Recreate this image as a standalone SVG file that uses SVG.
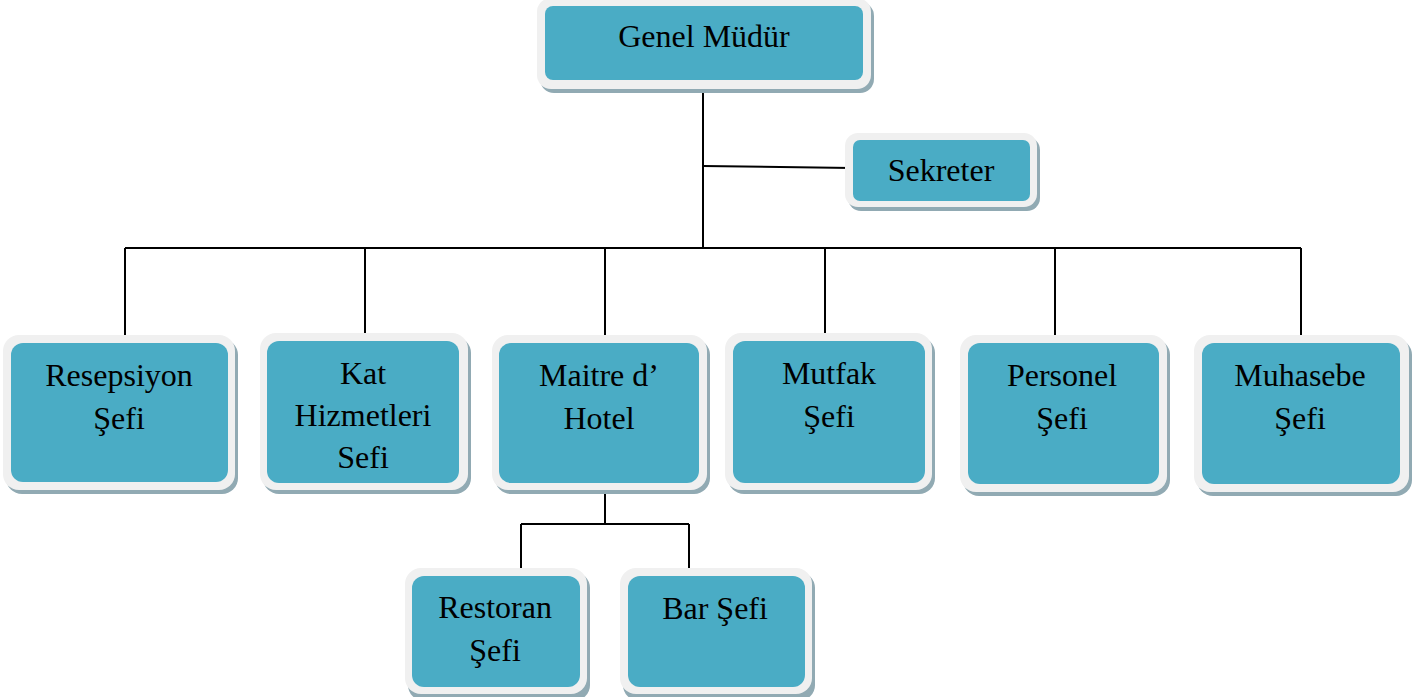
<svg xmlns="http://www.w3.org/2000/svg" width="1415" height="697" viewBox="0 0 1415 697">
<defs>
<style>
.sh{fill:#91aab3}
.fr{fill:#f0f0f0}
.in{fill:#4aacc5}
.t{font-family:"Liberation Serif","Times New Roman",serif;font-size:32px;fill:#000;text-anchor:middle}
.c{stroke:#000;stroke-width:2;fill:none}
</style>
</defs>
<rect width="1415" height="697" fill="#fff"/>
<g id="connectors">
<path class="c" d="M703 84V248"/>
<path class="c" d="M703 166L852 168"/>
<path class="c" d="M125 248H1301"/>
<path class="c" d="M125 248V337M365 248V337M605 248V337M825 248V339M1055 248V339M1301 248V340"/>
<path class="c" d="M605 476V524M521 524H689M521 524V582M689 524V582"/>
</g>
<g id="n-genel">
<rect class="sh" x="540" y="2" width="334" height="91" rx="14"/>
<rect class="fr" x="537" y="-2" width="334" height="91" rx="14"/>
<rect class="in" x="545" y="6" width="318" height="74" rx="8"/>
<text class="t" x="704" y="47">Genel Müdür</text>
</g>
<g id="n-sekreter">
<rect class="sh" x="848" y="137" width="192" height="74" rx="13"/>
<rect class="fr" x="845" y="133" width="192" height="74" rx="13"/>
<rect class="in" x="853" y="140" width="177" height="61" rx="7"/>
<text class="t" x="941" y="181">Sekreter</text>
</g>
<g id="n-resepsiyon">
<rect class="sh" x="6" y="339" width="232" height="155" rx="16"/>
<rect class="fr" x="3" y="335" width="232" height="155" rx="16"/>
<rect class="in" x="11" y="343" width="217" height="139" rx="12"/>
<text class="t" x="119" y="386">Resepsiyon</text>
<text class="t" x="119" y="429">Şefi</text>
</g>
<g id="n-kat">
<rect class="sh" x="263" y="337" width="208" height="157" rx="16"/>
<rect class="fr" x="260" y="333" width="208" height="157" rx="16"/>
<rect class="in" x="267" y="341" width="192" height="142" rx="12"/>
<text class="t" x="363" y="384">Kat</text>
<text class="t" x="363" y="426">Hizmetleri</text>
<text class="t" x="363" y="468">Sefi</text>
</g>
<g id="n-maitre">
<rect class="sh" x="495" y="339" width="215" height="155" rx="16"/>
<rect class="fr" x="492" y="335" width="215" height="155" rx="16"/>
<rect class="in" x="499" y="343" width="200" height="140" rx="12"/>
<text class="t" x="599" y="386">Maitre d’</text>
<text class="t" x="599" y="429">Hotel</text>
</g>
<g id="n-mutfak">
<rect class="sh" x="728" y="337" width="207" height="157" rx="16"/>
<rect class="fr" x="725" y="333" width="207" height="157" rx="16"/>
<rect class="in" x="733" y="341" width="192" height="142" rx="12"/>
<text class="t" x="829" y="384">Mutfak</text>
<text class="t" x="829" y="427">Şefi</text>
</g>
<g id="n-personel">
<rect class="sh" x="963" y="339" width="207" height="157" rx="16"/>
<rect class="fr" x="960" y="335" width="207" height="157" rx="16"/>
<rect class="in" x="968" y="343" width="191" height="141" rx="12"/>
<text class="t" x="1062" y="386">Personel</text>
<text class="t" x="1062" y="429">Şefi</text>
</g>
<g id="n-muhasebe">
<rect class="sh" x="1197" y="339" width="215" height="157" rx="16"/>
<rect class="fr" x="1194" y="335" width="215" height="157" rx="16"/>
<rect class="in" x="1202" y="343" width="198" height="141" rx="12"/>
<text class="t" x="1300" y="386">Muhasebe</text>
<text class="t" x="1300" y="429">Şefi</text>
</g>
<g id="n-restoran">
<rect class="sh" x="408" y="572" width="182" height="129" rx="16"/>
<rect class="fr" x="405" y="568" width="182" height="126" rx="16"/>
<rect class="in" x="412" y="576" width="168" height="111" rx="12"/>
<text class="t" x="495" y="618">Restoran</text>
<text class="t" x="495" y="661">Şefi</text>
</g>
<g id="n-bar">
<rect class="sh" x="623" y="572" width="192" height="129" rx="16"/>
<rect class="fr" x="620" y="568" width="192" height="126" rx="16"/>
<rect class="in" x="628" y="576" width="177" height="111" rx="12"/>
<text class="t" x="715" y="619">Bar Şefi</text>
</g>
</svg>
